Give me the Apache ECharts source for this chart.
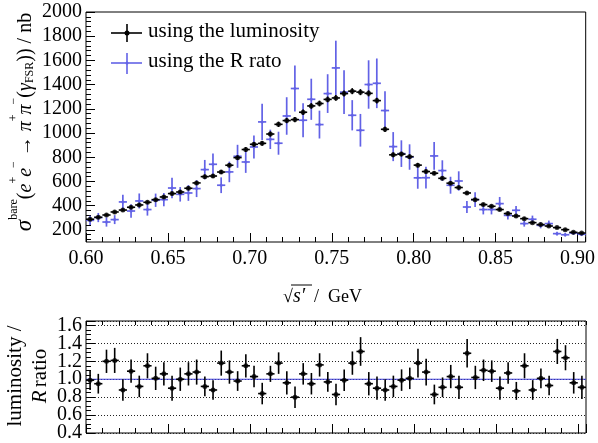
<!DOCTYPE html>
<html><head><meta charset="utf-8">
<script src="https://cdn.jsdelivr.net/npm/echarts@6/dist/echarts.min.js"></script>
<style>html,body{margin:0;padding:0;background:#fff}#c{width:598px;height:443px}</style>
</head><body><div id="c"></div>
<script>
// ---- data ----
const binCenters = [
  0.6025,0.6075,0.6125,0.6175,0.6225,0.6275,0.6325,0.6375,0.6425,0.6475,
  0.6525,0.6575,0.6625,0.6675,0.6725,0.6775,0.6825,0.6875,0.6925,0.6975,
  0.7025,0.7075,0.7125,0.7175,0.7225,0.7275,0.7325,0.7375,0.7425,0.7475,
  0.7525,0.7575,0.7625,0.7675,0.7725,0.7775,0.7825,0.7875,0.7925,0.7975,
  0.8025,0.8075,0.8125,0.8175,0.8225,0.8275,0.8325,0.8375,0.8425,0.8475,
  0.8525,0.8575,0.8625,0.8675,0.8725,0.8775,0.8825,0.8875,0.8925,0.8975,
  0.9025];
const binHalfWidth = 0.0025;
const lumi = [
  288,304,323,348,364,387,406,428,450,472,
  500,513,544,588,640,645,678,734,797,864,
  907,915,992,1072,1103,1111,1172,1224,1244,1278,
  1290,1326,1346,1338,1328,1268,1031,820,826,805,
  735,682,668,626,586,550,505,450,409,395,
  368,335,315,293,260,244,232,219,202,180,
  174];
const lumiErr = [
  12,12,12,13,13,13,14,14,14,15,
  15,15,16,16,17,17,17,18,19,20,
  20,20,21,22,22,22,23,23,24,24,
  24,25,25,25,25,24,22,19,19,19,
  18,17,17,16,16,15,15,14,13,13,
  13,12,12,12,11,11,11,10,10,10,
  10];
const rRatio = [
  279,302,265,285,431,356,439,368,445,450,
  546,494,505,541,698,742,569,679,808,761,
  885,1092,948,916,1141,1368,1106,1279,1070,1326,
  1538,1338,1147,1023,1401,1411,1186,888,830,802,
  630,631,811,690,569,604,389,450,368,368,
  417,320,362,252,288,238,252,169,160,174,
  164];
const rRatioErr = [
  38,38,38,37,60,55,62,50,55,55,
  85,60,65,70,80,90,65,85,95,90,
  95,150,80,95,155,190,140,170,115,160,
  225,180,125,135,200,205,160,120,110,105,
  90,90,115,85,70,80,50,60,40,40,
  55,35,35,25,30,25,25,15,15,15,
  15];
const ratio = [
  0.99,0.95,1.20,1.21,0.88,1.09,0.92,1.15,1.01,1.06,
  0.90,1.00,1.06,1.08,0.92,0.88,1.18,1.08,0.98,1.15,
  1.03,0.84,1.06,1.18,0.96,0.80,1.06,0.95,1.16,0.97,
  0.83,0.99,1.18,1.31,0.95,0.90,0.88,0.92,0.99,1.01,
  1.18,1.08,0.83,0.91,1.03,0.91,1.29,1.02,1.10,1.09,
  0.90,1.07,0.87,1.15,0.88,1.01,0.93,1.31,1.24,0.96,
  0.91];
const ratioErr = [
  0.11,0.11,0.13,0.14,0.12,0.13,0.12,0.14,0.13,0.13,
  0.14,0.13,0.13,0.14,0.11,0.11,0.14,0.13,0.11,0.13,
  0.12,0.12,0.09,0.12,0.13,0.12,0.12,0.12,0.13,0.11,
  0.12,0.12,0.13,0.16,0.13,0.13,0.12,0.12,0.12,0.12,
  0.16,0.15,0.11,0.11,0.13,0.13,0.16,0.13,0.12,0.12,
  0.13,0.12,0.10,0.14,0.11,0.11,0.11,0.14,0.14,0.12,
  0.13];
const yTickValues = [200,400,600,800,1000,1200,1400,1600,1800,2000];
const ratioTickValues = [0.4,0.6,0.8,1.0,1.2,1.4,1.6];
const legendLabels = ['using the luminosity', 'using the R rato'];

// ---- style ----
const FONT = '"Liberation Serif", "DejaVu Serif", serif';
const BLUE = '#6262e6';
const REFBLUE = '#3c3cd6';
const X_MIN = 0.6, X_MAX = 0.905;

const yMinor = [];
for (let v = 120; v < 2000; v += 40) { if (v % 200 !== 0) yMinor.push(v); }
const ratioLabelsA = ratioTickValues.filter((v, i) => i % 2 === 0);
const ratioLabelsB = ratioTickValues.filter((v, i) => i % 2 === 1);

function errRender(color, lw) {
  return function (params, api) {
    const x = api.value(0), y = api.value(1), e = api.value(2);
    const pL = api.coord([x - binHalfWidth, y]);
    const pR = api.coord([x + binHalfWidth, y]);
    const pT = api.coord([x, y + e]);
    const pB = api.coord([x, y - e]);
    return { type: 'group', children: [
      { type: 'line', shape: { x1: pL[0], y1: pL[1], x2: pR[0], y2: pR[1] }, style: { stroke: color, lineWidth: lw } },
      { type: 'line', shape: { x1: pT[0], y1: pT[1], x2: pB[0], y2: pB[1] }, style: { stroke: color, lineWidth: lw } }
    ]};
  };
}
const tri = (xs, ys, es) => xs.map((x, i) => [x, ys[i], es[i]]);
const pts = (xs, ys) => xs.map((x, i) => [x, ys[i]]);

const labelStyle = { fontFamily: FONT, fontSize: 20, color: '#000' };
function xAx(grid, interval, len, pos, labels) {
  return {
    type: 'value', gridIndex: grid, min: X_MIN, max: X_MAX, interval: interval, position: pos || 'bottom', offset: 0,
    axisLine: { show: false },
    axisTick: { show: true, inside: true, length: len, lineStyle: { color: '#000', width: 1 } },
    axisLabel: labels ? Object.assign({ show: true, margin: 7, showMaxLabel: false, formatter: v => v.toFixed(2) }, labelStyle) : { show: false },
    splitLine: { show: false }
  };
}
function ratioLabelAxis(values) {
  return { type: 'value', gridIndex: 1, min: 0.4, max: 1.65, position: 'left', offset: 0,
    axisLine: { show: false }, axisTick: { show: false }, splitLine: { show: false },
    axisLabel: { show: true, margin: 4, customValues: values, showMinLabel: true, showMaxLabel: true, hideOverlap: false,
      fontFamily: FONT, fontSize: 20, color: '#000', formatter: v => v.toFixed(1) } };
}

const chart = echarts.init(document.getElementById('c'), null, { renderer: 'canvas' });
chart.setOption({
  animation: false,
  backgroundColor: '#fff',
  grid: [
    { left: 86, top: 12, width: 500, height: 230, show: true, borderColor: '#000', borderWidth: 1, backgroundColor: 'transparent', containLabel: false },
    { left: 86, top: 321, width: 500, height: 112, show: true, borderColor: '#000', borderWidth: 1, backgroundColor: 'transparent', containLabel: false }
  ],
  xAxis: [
    xAx(0, 0.05, 9, 'bottom', true),
    xAx(0, 0.01, 5, 'bottom', false),
    xAx(1, 0.05, 9, 'bottom', false),
    xAx(1, 0.01, 5, 'bottom', false),
    xAx(1, 0.01, 4, 'top', false)
  ],
  yAxis: [
    { type: 'value', gridIndex: 0, min: 100, max: 2000, position: 'left', offset: 0,
      axisLine: { show: false },
      axisTick: { show: true, inside: true, length: 9, customValues: yTickValues, lineStyle: { color: '#000' } },
      axisLabel: Object.assign({ show: true, margin: 4, customValues: yTickValues, formatter: v => String(v) }, labelStyle),
      splitLine: { show: false } },
    { type: 'value', gridIndex: 0, min: 100, max: 2000, position: 'left', offset: 0,
      axisLine: { show: false },
      axisTick: { show: true, inside: true, length: 5, customValues: yMinor, lineStyle: { color: '#000' } },
      axisLabel: { show: false, customValues: yMinor },
      splitLine: { show: false } },
    { type: 'value', gridIndex: 1, min: 0.4, max: 1.65, interval: 0.2, position: 'left', offset: 0,
      axisLine: { show: false },
      axisTick: { show: true, inside: true, length: 9, lineStyle: { color: '#000' } },
      axisLabel: { show: false },
      splitLine: { show: true, lineStyle: { color: '#222', width: 1, type: [1, 2] } } },
    { type: 'value', gridIndex: 1, min: 0.4, max: 1.65, interval: 0.05, position: 'left', offset: 0,
      axisLine: { show: false },
      axisTick: { show: true, inside: true, length: 5, lineStyle: { color: '#000' } },
      axisLabel: { show: false },
      splitLine: { show: false } },
    ratioLabelAxis(ratioLabelsA),
    ratioLabelAxis(ratioLabelsB)
  ],
  series: [
    { type: 'custom', xAxisIndex: 0, yAxisIndex: 0, renderItem: errRender(BLUE, 1.7), encode: { x: 0, y: 1 },
      data: tri(binCenters, rRatio, rRatioErr), z: 2 },
    { type: 'scatter', xAxisIndex: 0, yAxisIndex: 0, symbol: 'circle', symbolSize: 3,
      itemStyle: { color: BLUE }, data: pts(binCenters, rRatio), z: 3 },
    { type: 'custom', xAxisIndex: 0, yAxisIndex: 0, renderItem: errRender('#000', 1.6), encode: { x: 0, y: 1 },
      data: tri(binCenters, lumi, lumiErr), z: 4 },
    { type: 'scatter', xAxisIndex: 0, yAxisIndex: 0, symbol: 'circle', symbolSize: 5,
      itemStyle: { color: '#000' }, data: pts(binCenters, lumi), z: 5 },
    { type: 'line', xAxisIndex: 2, yAxisIndex: 2, data: [[X_MIN, 1], [X_MAX, 1]], symbol: 'none',
      lineStyle: { color: REFBLUE, width: 1.2 }, z: 3 },
    { type: 'custom', xAxisIndex: 2, yAxisIndex: 2, renderItem: errRender('#000', 1.6), encode: { x: 0, y: 1 },
      data: tri(binCenters, ratio, ratioErr), z: 4 },
    { type: 'scatter', xAxisIndex: 2, yAxisIndex: 2, symbol: 'circle', symbolSize: 5,
      itemStyle: { color: '#000' }, data: pts(binCenters, ratio), z: 5 }
  ],
  graphic: [
    // legend
    { type: 'line', shape: { x1: 111, y1: 33, x2: 142, y2: 33 }, style: { stroke: '#000', lineWidth: 1.6 } },
    { type: 'line', shape: { x1: 127, y1: 24, x2: 127, y2: 42 }, style: { stroke: '#000', lineWidth: 1.6 } },
    { type: 'circle', shape: { cx: 127, cy: 33, r: 2.5 }, style: { fill: '#000' } },
    { type: 'text', left: 148, top: 21, style: { text: legendLabels[0], fontFamily: FONT, fontSize: 21, fill: '#000' } },
    { type: 'line', shape: { x1: 111, y1: 63, x2: 142, y2: 63 }, style: { stroke: BLUE, lineWidth: 1.6 } },
    { type: 'line', shape: { x1: 127, y1: 53, x2: 127, y2: 74 }, style: { stroke: BLUE, lineWidth: 1.6 } },
    { type: 'circle', shape: { cx: 127, cy: 63, r: 1.5 }, style: { fill: BLUE } },
    { type: 'text', left: 148, top: 51, style: { text: legendLabels[1], fontFamily: FONT, fontSize: 21, fill: '#000' } },
    // y title top
    { type: 'text', x: 22, y: 122, rotation: Math.PI / 2,
      style: {
        text: '{s|σ}{sup|bare}{n|(}{i|e}{sup|+}{i|e}{sup|−}{n| → }{g|π}{sup|+}{g|π}{sup|−}{n|(}{g|γ}{sub|FSR}{n|)) / nb}',
        align: 'center', verticalAlign: 'middle', fill: '#000',
        rich: {
          s: { fontFamily: FONT, fontSize: 23, fontStyle: 'italic', lineHeight: 28, verticalAlign: 'bottom' },
          n: { fontFamily: FONT, fontSize: 20, lineHeight: 28, verticalAlign: 'bottom' },
          i: { fontFamily: FONT, fontSize: 20, fontStyle: 'italic', lineHeight: 28, verticalAlign: 'bottom' },
          g: { fontFamily: FONT, fontSize: 20, fontStyle: 'italic', lineHeight: 28, verticalAlign: 'bottom' },
          sup: { fontFamily: FONT, fontSize: 12, lineHeight: 28, verticalAlign: 'top' },
          sub: { fontFamily: FONT, fontSize: 12, lineHeight: 20, verticalAlign: 'bottom' }
        }
      } },
    // x title
    { type: 'text', x: 283, y: 297,
      style: { text: '{n|√}{i|s′}{n|  /  GeV}', verticalAlign: 'middle', fill: '#000',
        rich: {
          n: { fontFamily: FONT, fontSize: 18 },
          i: { fontFamily: FONT, fontSize: 20, fontStyle: 'italic' }
        } } },
    { type: 'line', shape: { x1: 291, y1: 285, x2: 312, y2: 285 }, style: { stroke: '#000', lineWidth: 1 } },
    // y title bottom
    { type: 'text', x: 15, y: 376, rotation: Math.PI / 2,
      style: { text: 'luminosity /', align: 'center', verticalAlign: 'middle', fontFamily: FONT, fontSize: 21, fill: '#000' } },
    { type: 'text', x: 40, y: 376, rotation: Math.PI / 2,
      style: { text: '{i|R} {n|ratio}', align: 'center', verticalAlign: 'middle', fill: '#000',
        rich: { i: { fontFamily: FONT, fontSize: 21, fontStyle: 'italic' }, n: { fontFamily: FONT, fontSize: 21 } } } }
  ]
});
</script></body></html>
